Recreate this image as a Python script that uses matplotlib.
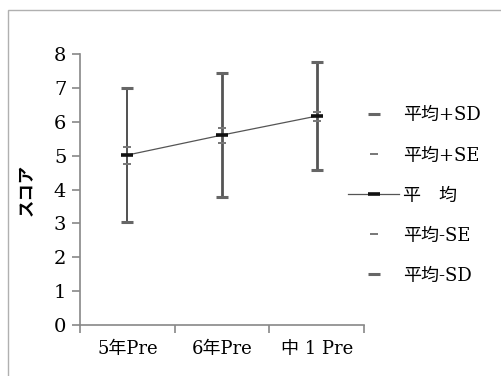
import matplotlib.pyplot as plt
from matplotlib.lines import Line2D
from matplotlib.patches import Rectangle

plt.rcParams['font.family'] = ['DejaVu Serif', 'Noto Sans CJK JP']

categories = ['5年Pre', '6年Pre', '中 1 Pre']
mean = [5.02, 5.61, 6.17]
sd_plus = [6.99, 7.44, 7.76]
sd_minus = [3.05, 3.78, 4.57]
se_plus = [5.27, 5.83, 6.29]
se_minus = [4.76, 5.39, 6.04]

x = list(range(len(categories)))

fig = plt.figure(figsize=(5.01, 3.76), dpi=100)
ax = fig.add_axes([0.16, 0.1356, 0.5665, 0.7204])

# outer chart frame
fig.patches.append(Rectangle((8/501, -0.1), 1.1, 1 - 10/376 + 0.1, transform=fig.transFigure,
                             fill=False, edgecolor='#b0b0b0', linewidth=1.0))

ax.vlines(x[0], sd_minus[0], sd_plus[0], color='#333333', linewidth=1.2)
ax.vlines(x[1:], sd_minus[1:], sd_plus[1:], color='#555555', linewidth=2.0)

sd_kw = dict(linestyle='none', marker='_', color='#666666', markersize=9, markeredgewidth=2.2)
se_kw = dict(linestyle='none', marker='_', color='#777777', markersize=6, markeredgewidth=1.4)
ax.plot(x, sd_plus, **sd_kw)
ax.plot(x, se_plus, **se_kw)
ax.plot(x, mean, color='#555555', linewidth=0.9, marker='_', markersize=9,
        markeredgewidth=2.6, markeredgecolor='#111111')
ax.plot(x, se_minus, **se_kw)
ax.plot(x, sd_minus, **sd_kw)

ax.set_xlim(-0.5, 2.5)
ax.set_ylim(0, 8)
ax.set_yticks(range(0, 9))
ax.set_xticks(x)
ax.set_xticklabels(categories)
ax.tick_params(axis='x', length=0, labelsize=13, pad=11)
ax.set_xticks([-0.5, 0.5, 1.5, 2.5], minor=True)
ax.tick_params(axis='x', which='minor', length=6, color='#888888', width=1.2)
ax.tick_params(axis='y', length=6, color='#888888', width=1.2, labelsize=14, pad=4)

for s in ['top', 'right']:
    ax.spines[s].set_visible(False)
for s in ['left', 'bottom']:
    ax.spines[s].set_color('#888888')
    ax.spines[s].set_linewidth(1.2)

ax.set_ylabel('スコア', fontsize=12.5, labelpad=13, fontweight='bold')

handles = [
    Line2D([], [], **sd_kw),
    Line2D([], [], **se_kw),
    Line2D([], [], color='#555555', linewidth=0.9, marker='_', markersize=9,
           markeredgewidth=2.6, markeredgecolor='#111111'),
    Line2D([], [], **se_kw),
    Line2D([], [], **sd_kw),
]
labels = ['平均+SD', '平均+SE', '平\u3000均', '平均-SE', '平均-SD']
fig.legend(handles, labels, loc='center left', bbox_to_anchor=(0.663, 0.48),
           frameon=False, fontsize=13, labelspacing=1.22, handlelength=2.8,
           handletextpad=0.2)

fig.savefig('out.png', dpi=100)
